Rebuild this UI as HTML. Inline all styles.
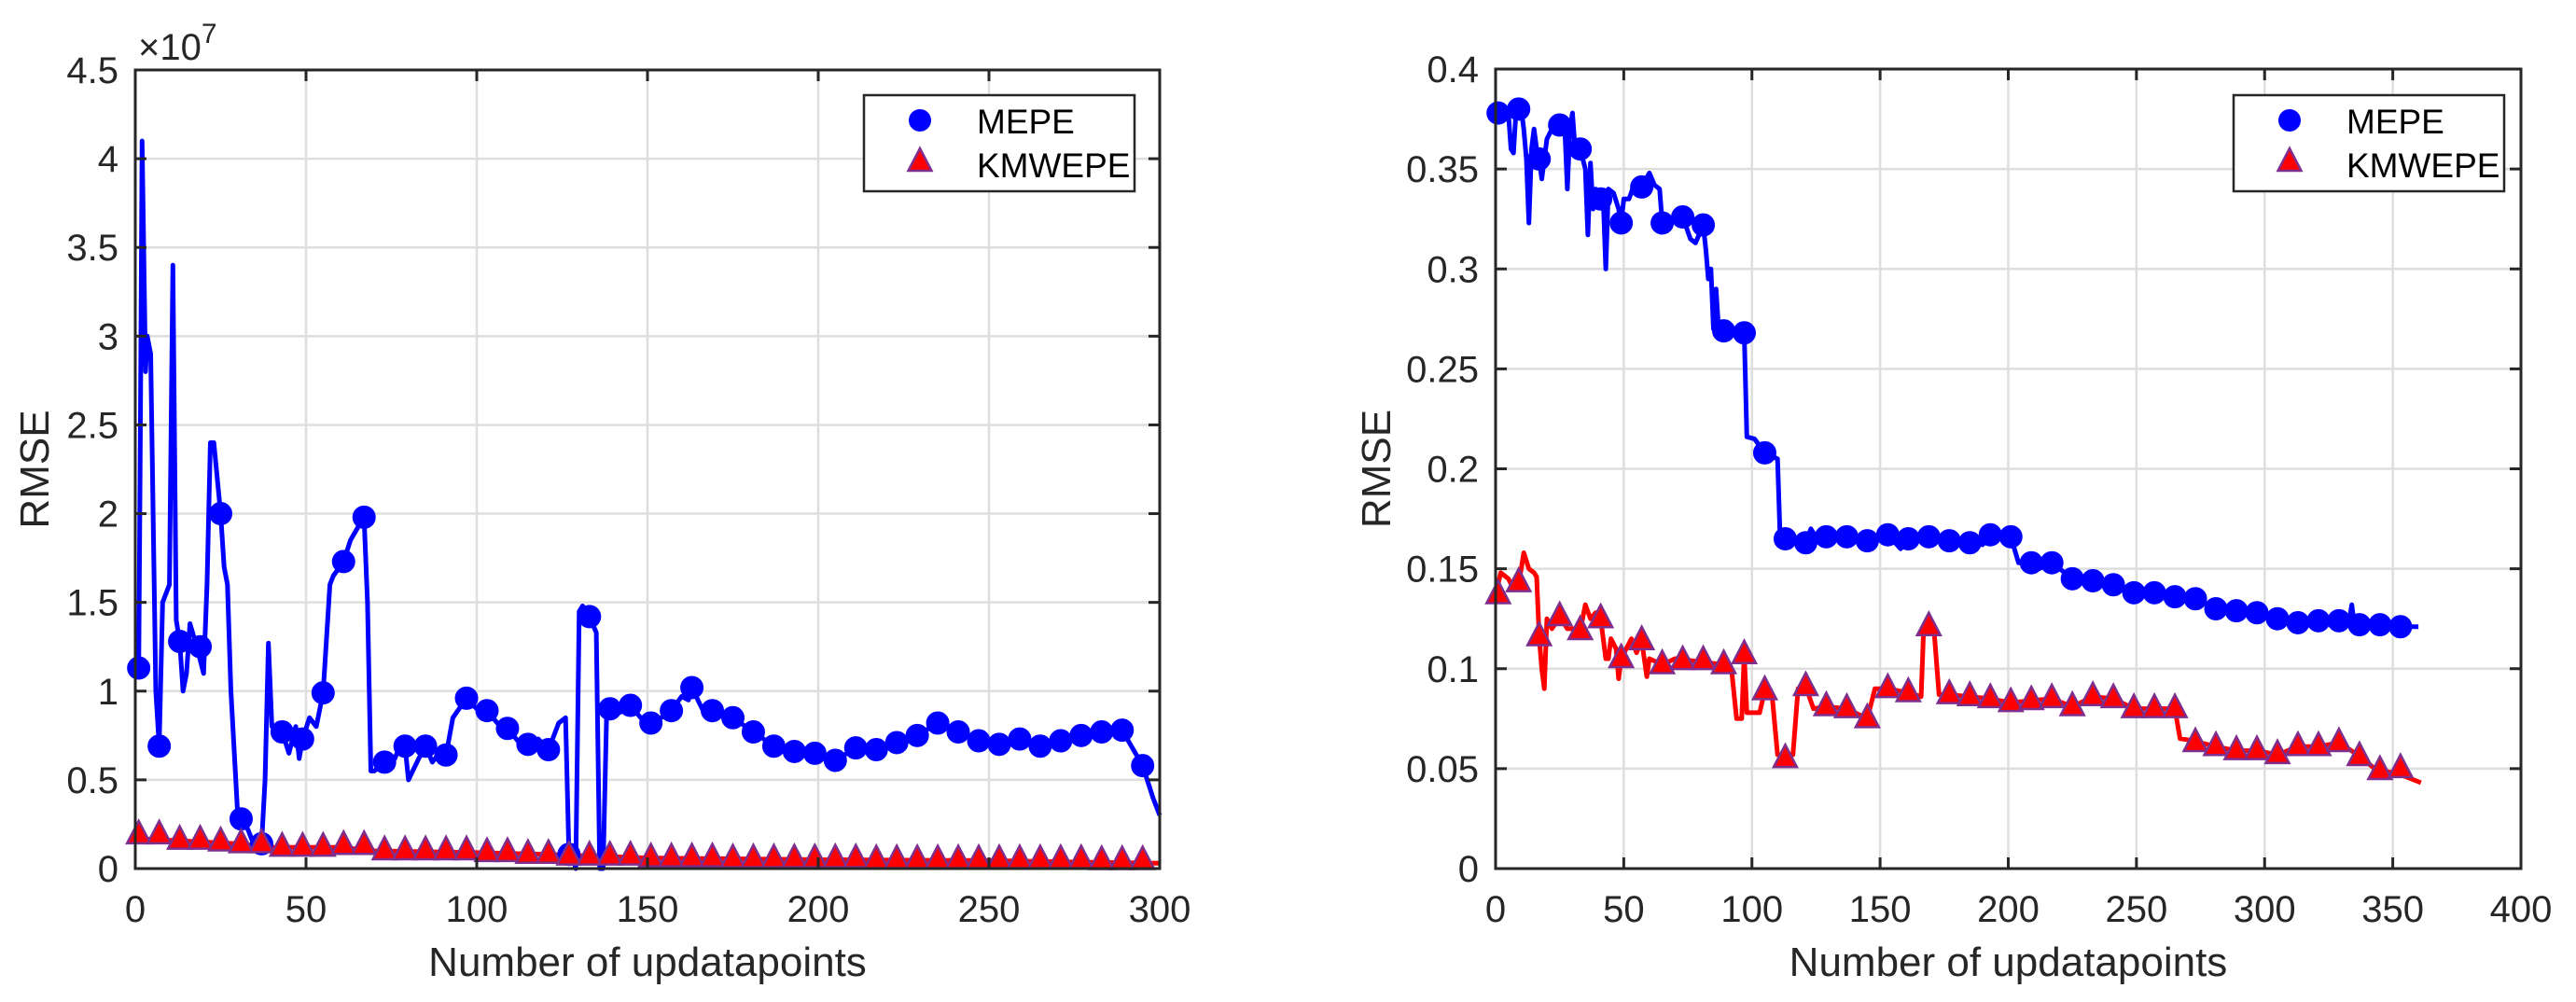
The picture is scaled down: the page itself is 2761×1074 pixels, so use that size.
<!DOCTYPE html>
<html><head><meta charset="utf-8">
<style>
html,body{margin:0;padding:0;background:#fff;}
svg{display:block;font-family:"Liberation Sans",Arial,sans-serif;}
</style></head>
<body>
<svg id="fig" width="2761" height="1074" viewBox="0 0 2761 1074" xmlns="http://www.w3.org/2000/svg">
<g id="left"></g>
<g id="right"></g>
</svg>
<script>
// ---------- LEFT CHART DATA (values in units of 1e7) ----------
const leftXTicks = [0,50,100,150,200,250,300];
const leftYTicks = [0,0.5,1,1.5,2,2.5,3,3.5,4,4.5];
const leftYTickLabels = ["0","0.5","1","1.5","2","2.5","3","3.5","4","4.5"];
const leftMepeMarkX = [1,7,13,19,25,31,37,43,49,55,61,67,73,79,85,91,97,103,109,115,121,127,133,139,145,151,157,163,169,175,181,187,193,199,205,211,217,223,229,235,241,247,253,259,265,271,277,283,289,295];
const leftMepeMarkY = [1.13,0.69,1.28,1.25,2.0,0.28,0.14,0.77,0.73,0.99,1.73,1.98,0.60,0.69,0.69,0.64,0.96,0.89,0.79,0.70,0.67,0.08,1.42,0.90,0.92,0.82,0.89,1.02,0.89,0.85,0.77,0.69,0.66,0.65,0.61,0.68,0.67,0.71,0.75,0.82,0.77,0.72,0.70,0.73,0.69,0.72,0.75,0.77,0.78,0.58];
const leftMepeLineX = [0,1,1.5,2,3,3.5,4.5,6,7,8,10,11,12,13,14,15,16,18,20,21,22,23,25,26,27,28,30,31,33,35,37,38,39,40,43,45,47,48,49,51,53,55,57,58,61,63,66,67,68,69,70,73,76,78,79,80,83,85,87,89,91,93,97,100,103,106,109,112,115,118,121,124,126,127,128,129,130,131,133,135,136,137,138,139,142,145,148,151,154,157,160,162,163,166,169,175,181,187,193,199,205,211,217,223,229,235,241,247,253,259,265,271,277,283,289,292,295,298,300];
const leftMepeLineY = [1.13,1.13,2.5,4.1,2.8,3.0,2.9,1.0,0.69,1.5,1.6,3.4,1.4,1.28,1.0,1.1,1.38,1.25,1.1,1.6,2.4,2.4,2.0,1.7,1.6,1.0,0.3,0.28,0.22,0.12,0.14,0.5,1.27,0.8,0.77,0.65,0.8,0.62,0.73,0.85,0.8,0.99,1.6,1.65,1.73,1.85,1.95,1.98,1.5,0.55,0.55,0.60,0.62,0.72,0.69,0.5,0.62,0.69,0.6,0.65,0.64,0.85,0.96,0.9,0.89,0.82,0.79,0.72,0.70,0.73,0.67,0.82,0.85,0.08,0.08,0.0,1.45,1.48,1.42,1.33,0.0,0.0,0.85,0.90,0.88,0.92,0.85,0.82,0.85,0.89,0.97,0.95,1.02,0.9,0.89,0.85,0.77,0.69,0.66,0.65,0.61,0.68,0.67,0.71,0.75,0.82,0.77,0.72,0.70,0.73,0.69,0.72,0.75,0.77,0.78,0.68,0.58,0.4,0.3];
const leftKmMarkX = leftMepeMarkX;
const leftKmMarkY = [0.19,0.19,0.16,0.16,0.15,0.14,0.14,0.12,0.12,0.12,0.13,0.13,0.10,0.10,0.10,0.10,0.10,0.09,0.09,0.08,0.08,0.07,0.07,0.07,0.07,0.06,0.06,0.06,0.06,0.055,0.055,0.055,0.055,0.055,0.055,0.055,0.05,0.05,0.05,0.05,0.05,0.05,0.05,0.05,0.05,0.05,0.05,0.045,0.045,0.045];
const leftKmLineX = [0,10,20,30,40,60,70,100,120,150,200,250,280,300];
const leftKmLineY = [0.17,0.16,0.15,0.14,0.12,0.12,0.10,0.09,0.08,0.06,0.05,0.045,0.035,0.03];

// ---------- RIGHT CHART DATA ----------
const rightXTicks = [0,50,100,150,200,250,300,350,400];
const rightYTicks = [0,0.05,0.1,0.15,0.2,0.25,0.3,0.35,0.4];
const rightYTickLabels = ["0","0.05","0.1","0.15","0.2","0.25","0.3","0.35","0.4"];
const rightMarkX = [1,9,17,25,33,41,49,57,65,73,81,89,97,105,113,121,129,137,145,153,161,169,177,185,193,201,209,217,225,233,241,249,257,265,273,281,289,297,305,313,321,329,337,345,353];
const rightMepeMarkY = [0.378,0.380,0.355,0.372,0.360,0.335,0.323,0.341,0.323,0.326,0.322,0.269,0.268,0.208,0.165,0.163,0.166,0.166,0.164,0.167,0.165,0.166,0.164,0.163,0.167,0.166,0.153,0.153,0.145,0.144,0.142,0.138,0.138,0.136,0.135,0.130,0.129,0.128,0.125,0.123,0.124,0.124,0.122,0.122,0.121];
const rightMepeLineX = [0,1,5,6,7,8,10,11,12,13,14,15,16,17,18,19,20,22,25,27,28,29,30,31,33,35,36,37,38,39,41,42,43,44,46,48,49,50,52,54,57,60,62,64,65,68,71,73,76,78,81,82,83,84,85,86,87,89,97,98,101,105,110,111,113,116,121,123,125,129,137,145,153,158,161,169,177,185,190,193,201,204,209,212,217,225,233,241,249,257,265,273,281,289,297,305,313,321,329,333,334,335,337,345,353,360];
const rightMepeLineY = [0.38,0.378,0.378,0.36,0.358,0.38,0.38,0.37,0.355,0.323,0.36,0.37,0.36,0.355,0.345,0.355,0.365,0.37,0.372,0.37,0.34,0.37,0.378,0.36,0.36,0.35,0.317,0.353,0.33,0.34,0.335,0.335,0.30,0.34,0.338,0.33,0.323,0.335,0.335,0.342,0.341,0.348,0.342,0.34,0.323,0.323,0.325,0.326,0.315,0.313,0.322,0.31,0.295,0.3,0.27,0.29,0.27,0.269,0.268,0.216,0.215,0.208,0.205,0.165,0.165,0.163,0.163,0.17,0.166,0.166,0.166,0.164,0.167,0.16,0.165,0.166,0.164,0.163,0.162,0.167,0.166,0.153,0.153,0.15,0.153,0.145,0.144,0.142,0.138,0.138,0.136,0.135,0.130,0.129,0.128,0.125,0.123,0.124,0.124,0.124,0.132,0.122,0.122,0.122,0.121,0.121];
const rightKmMarkY = [0.137,0.143,0.116,0.126,0.119,0.125,0.105,0.114,0.102,0.104,0.104,0.102,0.107,0.089,0.055,0.091,0.081,0.080,0.075,0.090,0.088,0.121,0.087,0.086,0.085,0.083,0.084,0.085,0.081,0.086,0.085,0.080,0.080,0.080,0.063,0.061,0.059,0.059,0.057,0.061,0.061,0.063,0.056,0.049,0.050];
const rightKmLineX = [0,2,5,7,9,10,11,13,15,16,17,18,19,20,22,25,28,31,33,35,37,39,41,43,44,45,47,48,49,51,53,55,57,59,60,65,70,89,92,94,96,97,98,103,105,108,110,116,118,121,124,129,137,145,148,153,161,166,167,171,173,177,185,193,201,209,217,225,233,241,249,257,265,267,272,281,289,297,305,313,321,329,335,343,353,361];
const rightKmLineY = [0.137,0.148,0.145,0.14,0.143,0.15,0.158,0.15,0.148,0.146,0.116,0.1,0.09,0.125,0.12,0.126,0.12,0.12,0.119,0.132,0.125,0.128,0.125,0.105,0.105,0.115,0.11,0.095,0.105,0.11,0.115,0.108,0.114,0.096,0.105,0.102,0.105,0.102,0.1,0.075,0.075,0.107,0.078,0.078,0.089,0.085,0.057,0.057,0.09,0.091,0.08,0.081,0.080,0.075,0.09,0.090,0.088,0.086,0.12,0.12,0.087,0.087,0.086,0.085,0.083,0.084,0.085,0.081,0.086,0.085,0.080,0.080,0.080,0.065,0.064,0.061,0.059,0.059,0.057,0.061,0.061,0.063,0.058,0.05,0.047,0.043];

const NS = "http://www.w3.org/2000/svg";
function mk(parent, tag, attrs){
  const e = document.createElementNS(NS, tag);
  for (const k in attrs) e.setAttribute(k, attrs[k]);
  parent.appendChild(e);
  return e;
}

function drawChart(g, cfg){
  const {x0,x1,y0,y1,xmin,xmax,ymin,ymax} = cfg;
  const sx = v => x0 + (v - xmin) / (xmax - xmin) * (x1 - x0);
  const sy = v => y0 - (v - ymin) / (ymax - ymin) * (y0 - y1);
  const grid = mk(g,'g',{});
  
  
  cfg.xTicks.forEach(t=>{ if(t>xmin&&t<xmax){ const l=mk(grid,'line',{x1:sx(t),x2:sx(t),y1:y1,y2:y0,stroke:'#dedede','stroke-width':2.5});
     }});
  cfg.yTicks.forEach(t=>{ if(t>ymin&&t<ymax){ const l=mk(grid,'line',{x1:x0,x2:x1,y1:sy(t),y2:sy(t),stroke:'#dedede','stroke-width':2.5});
     }});
  function line(xs, ys, color, name){
    const pts = xs.map((x,i)=>sx(x).toFixed(1)+','+sy(ys[i]).toFixed(1)).join(' ');
    const p = mk(g,'polyline',{points:pts,fill:'none',stroke:color,'stroke-width':5,'stroke-linejoin':'round'});
    
    
  }
  function circles(xs, ys, name){
    const gg = mk(g,'g',{});
    
    
    xs.forEach((x,i)=>{ const c=mk(gg,'circle',{cx:sx(x),cy:sy(ys[i]),r:12,fill:'#0000ff',stroke:'#0000ff','stroke-width':1});
       });
  }
  function tris(xs, ys, name){
    const gg = mk(g,'g',{});
    
    
    xs.forEach((x,i)=>{ const cx=sx(x), cy=sy(ys[i]);
      const t=mk(gg,'polygon',{points:`${cx-12.5},${cy+9} ${cx+12.5},${cy+9} ${cx},${cy-15}`,fill:'#ff0000',stroke:'#7e2f8e','stroke-width':2.5,'stroke-linejoin':'miter'});
       });
  }
  line(cfg.kmLineX, cfg.kmLineY, '#ff0000', 'kmwepe-line');
  line(cfg.mepeLineX, cfg.mepeLineY, '#0000ff', 'mepe-line');
  circles(cfg.mepeMarkX, cfg.mepeMarkY, 'mepe-markers');
  tris(cfg.kmMarkX, cfg.kmMarkY, 'kmwepe-markers');
  const box = mk(g,'rect',{x:x0,y:y1,width:x1-x0,height:y0-y1,fill:'none',stroke:'#262626','stroke-width':3});
  
  
  cfg.xTicks.forEach(t=>{
    const X=sx(t);
    mk(g,'line',{x1:X,x2:X,y1:y0,y2:y0-12,stroke:'#262626','stroke-width':3});
    mk(g,'line',{x1:X,x2:X,y1:y1,y2:y1+12,stroke:'#262626','stroke-width':3});
    const tx=mk(g,'text',{x:X,y:y0+57,'font-size':40,fill:'#262626','text-anchor':'middle'});
    
    
    tx.textContent=String(t);
  });
  cfg.yTicks.forEach((t,i)=>{
    const Y=sy(t);
    mk(g,'line',{x1:x0,x2:x0+12,y1:Y,y2:Y,stroke:'#262626','stroke-width':3});
    mk(g,'line',{x1:x1,x2:x1-12,y1:Y,y2:Y,stroke:'#262626','stroke-width':3});
    const tx=mk(g,'text',{x:x0-18,y:Y+14,'font-size':40,fill:'#262626','text-anchor':'end'});
    
    
    tx.textContent=cfg.yTickLabels[i];
  });
  const xt=mk(g,'text',{x:(x0+x1)/2,y:1046,'font-size':44,fill:'#262626','text-anchor':'middle'});
  
  
  xt.textContent='Number of updatapoints';
  const yt=mk(g,'text',{x:0,y:0,'font-size':44,fill:'#262626','text-anchor':'middle',transform:`translate(${cfg.yTitleX},${(y0+y1)/2}) rotate(-90)`});
  
  
  yt.textContent='RMSE';
  const lg=mk(g,'g',{});
  
  
  const lx=cfg.legX, ly=102;
  mk(lg,'rect',{x:lx,y:ly,width:290,height:103,fill:'#fff',stroke:'#262626','stroke-width':2.5});
  const e1=mk(lg,'g',{});
  
  
  mk(e1,'circle',{cx:lx+60,cy:ly+27,r:12,fill:'#0000ff'});
  const t1=mk(e1,'text',{x:lx+121,y:ly+41,'font-size':37,fill:'#000'}); t1.textContent='MEPE';
  const e2=mk(lg,'g',{});
  
  
  const cx=lx+60, cy=ly+72;
  mk(e2,'polygon',{points:`${cx-12.5},${cy+9} ${cx+12.5},${cy+9} ${cx},${cy-15}`,fill:'#ff0000',stroke:'#7e2f8e','stroke-width':2.5});
  const t2=mk(e2,'text',{x:lx+121,y:ly+88,'font-size':37,fill:'#000'}); t2.textContent='KMWEPE';
}

const L=document.getElementById('left');
drawChart(L,{x0:145,x1:1243,y0:931,y1:75,xmin:0,xmax:300,ymin:0,ymax:4.5,
  xTicks:leftXTicks,yTicks:leftYTicks,yTickLabels:leftYTickLabels,
  mepeMarkX:leftMepeMarkX,mepeMarkY:leftMepeMarkY,mepeLineX:leftMepeLineX,mepeLineY:leftMepeLineY,
  kmMarkX:leftKmMarkX,kmMarkY:leftKmMarkY,kmLineX:leftKmLineX,kmLineY:leftKmLineY,
  yTitleX:52,legX:926});
const ex=mk(L,'text',{x:148,y:64,'font-size':40,fill:'#262626'});


ex.innerHTML='×10<tspan dy="-18" font-size="30">7</tspan>';

const R=document.getElementById('right');
drawChart(R,{x0:1603,x1:2702,y0:931,y1:74,xmin:0,xmax:400,ymin:0,ymax:0.4,
  xTicks:rightXTicks,yTicks:rightYTicks,yTickLabels:rightYTickLabels,
  mepeMarkX:rightMarkX,mepeMarkY:rightMepeMarkY,mepeLineX:rightMepeLineX,mepeLineY:rightMepeLineY,
  kmMarkX:rightMarkX,kmMarkY:rightKmMarkY,kmLineX:rightKmLineX,kmLineY:rightKmLineY,
  yTitleX:1490,legX:2394});
</script>
</body></html>
